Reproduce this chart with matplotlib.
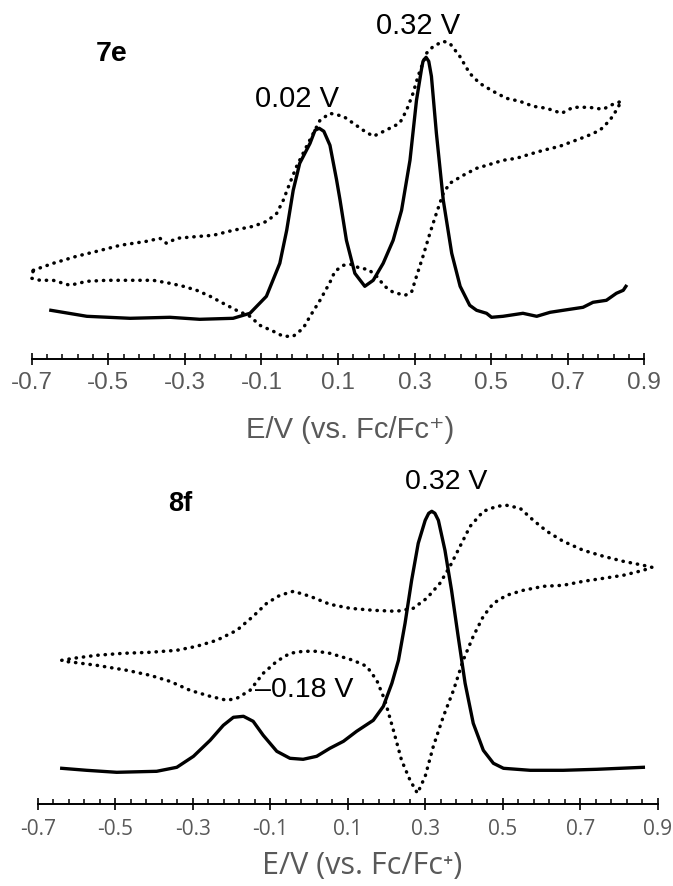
import matplotlib
matplotlib.use('Agg')
import matplotlib.pyplot as plt
from matplotlib import font_manager
import numpy as np

# ---- data (current in arbitrary units above the axis) ----
# 7e: differential pulse voltammogram
e7_dpv_E = [-0.650, -0.556, -0.443, -0.339, -0.261, -0.174, -0.130, -0.087, -0.052,
            -0.034, -0.017, 0.000, 0.027, 0.040, 0.051, 0.063, 0.079, 0.096, 0.105,
            0.122, 0.144, 0.170, 0.192, 0.218, 0.244, 0.266, 0.288, 0.305, 0.318,
            0.322, 0.330, 0.337, 0.344, 0.357, 0.375, 0.397, 0.419, 0.444, 0.462,
            0.488, 0.501, 0.531, 0.583, 0.619, 0.654, 0.688, 0.740, 0.766, 0.801,
            0.827, 0.845, 0.852]
e7_dpv_I = [49, 43, 41, 42, 40, 41, 46, 63, 96,
            129, 169, 196, 216, 229, 231, 228, 214, 180, 160,
            119, 86, 73, 79, 96, 119, 149, 199, 259, 290,
            298, 302, 298, 283, 226, 159, 106, 73, 54, 49,
            46, 42, 43, 46, 43, 47, 49, 52, 57, 59,
            66, 69, 73]

# 7e: cyclic voltammogram, forward sweep then reverse sweep
e7_cv_E = [-0.696, -0.644, -0.583, -0.530, -0.469, -0.400, -0.365, -0.348, -0.321,
           -0.261, -0.226, -0.174, -0.121, -0.086, -0.060, -0.043, -0.026, -0.008,
           0.018, 0.053, 0.079, 0.114, 0.140, 0.166, 0.192, 0.209, 0.235, 0.261,
           0.279, 0.296, 0.309, 0.331, 0.349, 0.375, 0.392, 0.418, 0.444, 0.470,
           0.505, 0.540, 0.575, 0.610, 0.645, 0.684, 0.714, 0.756, 0.792, 0.818,
           0.840,
           0.827, 0.810, 0.784, 0.749, 0.714, 0.679, 0.636, 0.600, 0.566, 0.531,
           0.497, 0.462, 0.427, 0.392, 0.375, 0.357, 0.340, 0.322, 0.305, 0.292,
           0.275, 0.244, 0.222, 0.201, 0.179, 0.157, 0.136, 0.114, 0.092, 0.079,
           0.053, 0.027, 0.009, -0.017, -0.043, -0.069, -0.104, -0.130, -0.165,
           -0.200, -0.234, -0.269, -0.304, -0.339, -0.383, -0.443, -0.504, -0.556,
           -0.600, -0.644, -0.678, -0.700, -0.696]
e7_cv_I = [89, 96, 103, 108, 114, 118, 121, 116, 121,
           123, 124, 129, 133, 138, 146, 159, 176, 193,
           213, 239, 246, 243, 236, 229, 223, 226, 231, 236,
           249, 266, 283, 306, 313, 318, 316, 303, 286, 276,
           268, 261, 258, 253, 251, 246, 252, 252, 250, 255,
           258,
           249, 239, 229, 223, 218, 213, 209, 205, 201, 199,
           195, 191, 184, 176, 166, 146, 126, 103, 83, 67,
           64, 67, 73, 83, 90, 91, 95, 94, 88, 77,
           59, 43, 31, 23, 23, 28, 34, 43, 49,
           56, 63, 69, 73, 76, 79, 79, 79, 78,
           74, 79, 79, 81, 89]

# 8f: differential pulse voltammogram
f8_dpv_E = [-0.638, -0.574, -0.496, -0.393, -0.341, -0.298, -0.255, -0.221, -0.195,
            -0.169, -0.144, -0.118, -0.083, -0.049, -0.015, 0.020, 0.054, 0.089,
            0.123, 0.166, 0.192, 0.214, 0.231, 0.248, 0.265, 0.282, 0.300, 0.309,
            0.317, 0.325, 0.334, 0.351, 0.368, 0.385, 0.403, 0.424, 0.450, 0.476,
            0.502, 0.571, 0.656, 0.743, 0.863]
f8_dpv_I = [36, 34, 32, 33, 37, 48, 64, 79, 87,
            88, 83, 69, 53, 46, 45, 48, 56, 63,
            73, 84, 98, 121, 144, 181, 224, 261, 284, 291,
            293, 291, 284, 254, 214, 168, 121, 81, 54, 41,
            36, 34, 34, 35, 37]

# 8f: cyclic voltammogram, forward sweep then reverse sweep
f8_cv_E = [-0.638, -0.608, -0.548, -0.479, -0.410, -0.341, -0.290, -0.238, -0.186,
           -0.144, -0.109, -0.075, -0.040, 0.003, 0.054, 0.106, 0.166, 0.226,
           0.269, 0.304, 0.338, 0.364, 0.390, 0.416, 0.450, 0.485, 0.510, 0.545,
           0.579, 0.614, 0.656, 0.708, 0.760, 0.811, 0.863, 0.885,
           0.863, 0.811, 0.760, 0.708, 0.656, 0.605, 0.553, 0.510, 0.476, 0.450,
           0.424, 0.398, 0.373, 0.347, 0.321, 0.300, 0.280, 0.261, 0.239, 0.218,
           0.196, 0.175, 0.149, 0.114, 0.080, 0.054, 0.020, -0.015, -0.049,
           -0.083, -0.118, -0.152, -0.186, -0.212, -0.255, -0.307, -0.359, -0.410,
           -0.470, -0.548, -0.608, -0.634, -0.638]
f8_cv_I = [144, 146, 149, 151, 152, 154, 158, 164, 174,
           188, 201, 209, 213, 208, 200, 196, 194, 193,
           196, 206, 221, 238, 258, 278, 293, 298, 299, 296,
           284, 273, 263, 254, 248, 243, 239, 237,
           234, 229, 226, 223, 219, 218, 214, 209, 201, 188,
           168, 144, 114, 88, 58, 28, 11, 24, 44, 74,
           104, 124, 138, 144, 148, 151, 153, 153, 151,
           143, 131, 114, 106, 104, 108, 114, 123, 129,
           134, 139, 142, 143, 144]

major_ticks = [-0.7, -0.5, -0.3, -0.1, 0.1, 0.3, 0.5, 0.7, 0.9]
tick_labels = ['-0.7', '-0.5', '-0.3', '-0.1', '0.1', '0.3', '0.5', '0.7', '0.9']
minor_ticks = np.round(np.arange(-0.7, 0.9001, 0.04), 2)
xlabel = 'E/V (vs. Fc/Fc\u207a)'


def pick_font(names):
    have = {f.name for f in font_manager.fontManager.ttflist}
    for n in names:
        if n in have:
            return n
    return 'DejaVu Sans'


ARIAL = pick_font(['Liberation Sans', 'Arial'])
SEGOE = pick_font(['Open Sans', 'Noto Sans', 'Liberation Sans'])
GREY = '#595959'

W, H, DPI = 673, 886, 100
fig = plt.figure(figsize=(W / DPI, H / DPI), dpi=DPI)
fig.patch.set_facecolor('white')


def px_axes(left, axis_y, width, height):
    """Axes placed in pixels: axis_y is the row of the x axis line."""
    return fig.add_axes([left / W, (H - axis_y) / H, width / W, height / H])


def draw_panel(ax, dpv_E, dpv_I, cv_E, cv_I, top, tick_font, tick_size, pad):
    ax.plot(cv_E, cv_I, color='black', lw=2.5, ls=(0, (0.1, 2.0)),
            dash_capstyle='round', clip_on=False)
    ax.plot(dpv_E, dpv_I, color='black', lw=2.4, solid_joinstyle='round',
            clip_on=False)
    ax.set_xlim(-0.7, 0.9)
    ax.set_ylim(0, top)
    for s in ['left', 'right', 'top']:
        ax.spines[s].set_visible(False)
    ax.spines['bottom'].set_linewidth(1.4)
    ax.set_yticks([])
    ax.set_xticks(major_ticks)
    ax.set_xticks(minor_ticks, minor=True)
    ax.set_xticklabels(tick_labels, fontfamily=tick_font, fontsize=tick_size,
                       color=GREY)
    ax.tick_params(axis='x', which='major', direction='inout', length=8,
                   width=1.2, pad=pad)
    ax.tick_params(axis='x', which='minor', direction='in', length=3.8,
                   width=1.1)
    ax.patch.set_alpha(0)


# top panel: 7e
ax1 = px_axes(31.7, 359.3, 612.6, 355)
draw_panel(ax1, e7_dpv_E, e7_dpv_I, e7_cv_E, e7_cv_I, 355, ARIAL, 17.5, 5.5)
ax1.text(-0.491, 305, '7e', ha='center', va='center', fontsize=20.5,
         fontweight='bold', family=ARIAL)
ax1.text(-0.007, 260, '0.02 V', ha='center', va='center', fontsize=21,
         family=ARIAL)
ax1.text(0.309, 333, '0.32 V', ha='center', va='center', fontsize=21,
         family=ARIAL)
fig.text(350 / W, 1 - 430 / H, xlabel, ha='center', va='center', fontsize=21,
         color=GREY, family=[ARIAL, 'DejaVu Sans'])

# bottom panel: 8f
ax2 = px_axes(37.7, 804.3, 620, 340)
draw_panel(ax2, f8_dpv_E, f8_dpv_I, f8_cv_E, f8_cv_I, 340, SEGOE, 15, 6.5)
ax2.text(-0.331, 300, '8f', ha='center', va='center', fontsize=19.5,
         fontweight='bold', family=ARIAL)
ax2.text(0.355, 322, '0.32 V', ha='center', va='center', fontsize=20.5,
         family=ARIAL)
ax2.text(-0.013, 114, '\u20130.18 V', ha='center', va='center', fontsize=20.5,
         family=ARIAL)
fig.text(362 / W, 1 - 866 / H, xlabel, ha='center', va='center', fontsize=22,
         color=GREY, family=[SEGOE, 'DejaVu Sans'])

fig.savefig('out.png', dpi=DPI, facecolor='white')
